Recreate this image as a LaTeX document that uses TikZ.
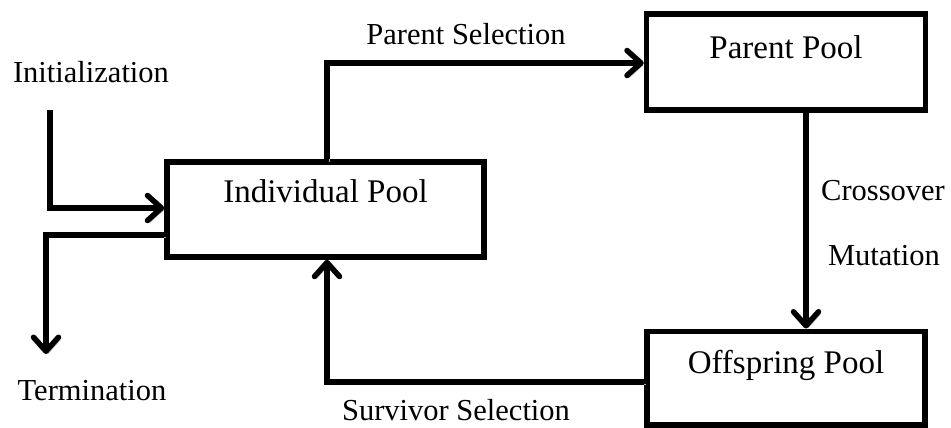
\documentclass[tikz,border=0pt]{standalone}
\usepackage{fontspec}
\setmainfont{Liberation Serif}
\usetikzlibrary{arrows.meta,calc}
\begin{document}
\begin{tikzpicture}[x=1pt,y=-1pt,
  pool/.style={draw, line width=5.5pt, minimum width=#1, minimum height=95pt, inner sep=0pt},
  pooltext/.style={anchor=base, font=\fontsize{33}{36}\selectfont},
  lbl/.style={anchor=base, font=\fontsize{30.5}{34}\selectfont},
  conn/.style={line width=5.5pt,
    -{Straight Barb[length=14pt,width=25pt,line cap=round,line join=round]},
    preaction={draw=black!30, transform canvas={shift={(2pt,-2.5pt)}}}}]
  \useasboundingbox (0,0) rectangle (951,428);

  % pools
  \node[pool=317pt] (ind) at (325.5,209.5) {};
  \node[pool=279pt, minimum height=96pt] (pp) at (786,62) {};
  \node[pool=278pt, minimum height=93.5pt] (op) at (786,378) {};
  \node[pooltext] (indt) at ($(ind.north)+(0,43)$) {Individual Pool};
  \node[pooltext] (ppt) at ($(pp.north)+(0,47)$) {Parent Pool};
  \node[pooltext] (opt) at ($(op.north)+(0,45)$) {Offspring Pool};

  % free ends and bends
  \coordinate (init) at (50,110);
  \coordinate (term) at (46,354);
  \coordinate (psel) at (327,63);
  \coordinate (ssel) at (327,382);
  \coordinate (cm) at (806,0);

  % connectors
  \draw[conn] (ind.north -| psel) |- (pp.west |- psel);
  \draw[conn] (init) |- (ind.west |- 0,208);
  \draw[conn] (ind.west |- 0,235) -| (term);
  \draw[conn] (pp.south -| cm) -- (op.north -| cm);
  \draw[conn] (op.west |- ssel) -| (ind.south -| ssel);

  % labels
  \node[lbl] (lps) at (466,45) {Parent Selection};
  \node[lbl] (lin) at (91,82) {Initialization};
  \node[lbl] (lte) at (92,400) {Termination};
  \node[lbl] (lss) at (456,420) {Survivor Selection};
  \node[lbl] (lcr) at (883,200) {Crossover};
  \node[lbl] (lmu) at (884,265) {Mutation};
\end{tikzpicture}
\end{document}
